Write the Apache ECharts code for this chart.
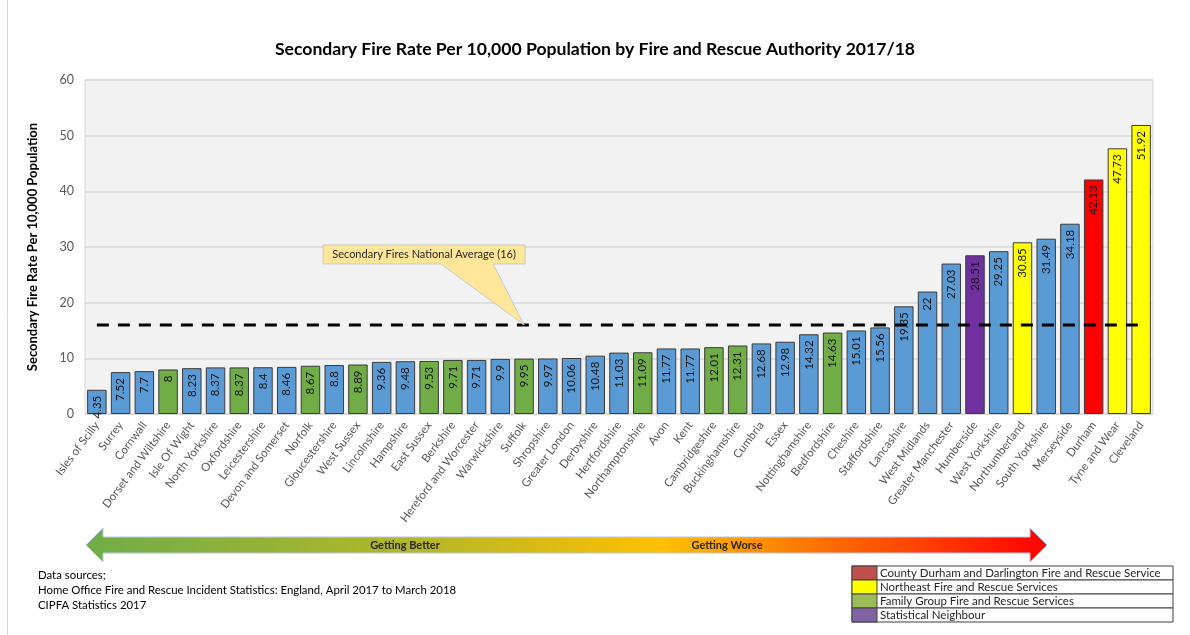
<!DOCTYPE html>
<html>
<head>
<meta charset="utf-8">
<script src="https://cdn.jsdelivr.net/npm/echarts@6/dist/echarts.min.js"></script>
<style>
html,body{margin:0;padding:0;background:#fff;}
#c{width:1190px;height:635px;}
</style>
</head>
<body>
<div id="c"></div>
<script>
var categories = ['Isles of Scilly','Surrey','Cornwall','Dorset and Wiltshire','Isle Of Wight','North Yorkshire','Oxfordshire','Leicestershire','Devon and Somerset','Norfolk','Gloucestershire','West Sussex','Lincolnshire','Hampshire','East Sussex','Berkshire','Hereford and Worcester','Warwickshire','Suffolk','Shropshire','Greater London','Derbyshire','Hertfordshire','Northamptonshire','Avon','Kent','Cambridgeshire','Buckinghamshire','Cumbria','Essex','Nottinghamshire','Bedfordshire','Cheshire','Staffordshire','Lancashire','West Midlands','Greater Manchester','Humberside','West Yorkshire','Northumberland','South Yorkshire','Merseyside','Durham','Tyne and Wear','Cleveland'];
var values = [4.35,7.52,7.7,8,8.23,8.37,8.37,8.4,8.46,8.67,8.8,8.89,9.36,9.48,9.53,9.71,9.71,9.9,9.95,9.97,10.06,10.48,11.03,11.09,11.77,11.77,12.01,12.31,12.68,12.98,14.32,14.63,15.01,15.56,19.35,22,27.03,28.51,29.25,30.85,31.49,34.18,42.13,47.73,51.92];
// group: o = other, f = family group, n = northeast, d = county durham, s = statistical neighbour
var groups = ['o','o','o','f','o','o','f','o','o','f','o','f','o','o','f','f','o','o','f','o','o','o','o','f','o','o','f','f','o','o','o','f','o','o','o','o','o','s','o','n','o','o','d','n','n'];
var nationalAverage = 16;
var avgIndex = 18;
var yTicks = [0,10,20,30,40,50,60];
var legendItems = ['County Durham and Darlington Fire and Rescue Service','Northeast Fire and Rescue Services','Family Group Fire and Rescue Services','Statistical Neighbour'];
var legendColors = ['#C0504D','#FFFF00','#9BBB59','#8064A2'];
var sourceLines = ['Data sources;','Home Office Fire and Rescue Incident Statistics: England, April 2017 to March 2018','CIPFA Statistics 2017'];
var title = 'Secondary Fire Rate Per 10,000 Population by Fire and Rescue Authority 2017/18';
var yName = 'Secondary Fire Rate Per 10,000 Population';

var groupColor = {o:'#5B9BD5', f:'#70AD47', n:'#FFFF00', d:'#FF0000', s:'#7030A0'};
var FONT = 'Lato';

var chart = echarts.init(document.getElementById('c'), null, {renderer:'canvas'});
var barData = values.map(function(v,i){ return {value:v, itemStyle:{color:groupColor[groups[i]]}}; });
var avgData = categories.map(function(){ return nationalAverage; });

chart.setOption({
  backgroundColor:'#fff',
  animation:false,
  textStyle:{fontFamily:FONT},
  title:{text:title, left:'center', top:35, textStyle:{fontFamily:FONT, fontSize:17.6, fontWeight:'bold', color:'#000'}},
  grid:{left:85, right:37, top:80, bottom:221, show:true, backgroundColor:'#F2F2F2', borderColor:'#D9D9D9', borderWidth:1},
  xAxis:{type:'category', data:categories,
    axisLine:{lineStyle:{color:'#D9D9D9'}}, axisTick:{show:false},
    axisLabel:{interval:0, rotate:53, fontSize:11.5, color:'#595959', fontFamily:FONT, margin:9}},
  yAxis:{type:'value', min:yTicks[0], max:yTicks[yTicks.length-1], interval:10,
    name:yName, nameLocation:'middle', nameGap:46,
    nameTextStyle:{fontFamily:FONT, fontSize:13, fontWeight:'bold', color:'#000'},
    axisLine:{show:false}, axisTick:{show:false},
    axisLabel:{fontSize:12.5, color:'#595959', fontFamily:FONT, margin:11},
    splitLine:{lineStyle:{color:'#D9D9D9', width:1.5}}},
  series:[
    {type:'bar', data:barData, barCategoryGap:'18%', z:2,
     itemStyle:{borderColor:'#3A3A3A', borderWidth:1},
     label:{show:true, position:'insideTop', rotate:90, align:'right', verticalAlign:'middle', distance:6,
       fontSize:11.5, color:'#111', fontFamily:FONT}},
    {type:'line', data:avgData, symbol:'none', z:5, silent:true,
     lineStyle:{color:'#000', width:3, type:[12,9]}}
  ]
});

function draw(){
  var tip = chart.convertToPixel({xAxisIndex:0, yAxisIndex:0}, [avgIndex, nationalAverage]);
  var bx1 = tip[0]+1, bx0 = bx1-202, by1 = tip[1]-61, by0 = by1-19;
  var els = [];
  els.push({type:'line', shape:{x1:7.5,y1:0,x2:7.5,y2:635}, style:{stroke:'#D9D9D9', lineWidth:1}, silent:true});
  els.push({type:'polygon', shape:{points:[[bx0,by0],[bx1,by0],[bx1,by1],[tip[0]-31,by1],[tip[0],tip[1]],[tip[0]-83,by1],[bx0,by1]]},
    style:{fill:'#FFE699', stroke:'#C9C9C9', lineWidth:1}, z:10});
  els.push({type:'text', x:(bx0+bx1)/2, y:(by0+by1)/2, z:11,
    style:{text:'Secondary Fires National Average (16)', fontFamily:FONT, fontSize:11, fill:'#262626', align:'center', verticalAlign:'middle'}});
  var ax0=86, ax1=1047, ay=545, hl=17, hh=17, sh=8;
  els.push({type:'polygon', shape:{points:[[ax0,ay],[ax0+hl,ay-hh],[ax0+hl,ay-sh],[ax1-hl,ay-sh],[ax1-hl,ay-hh],[ax1,ay],[ax1-hl,ay+hh],[ax1-hl,ay+sh],[ax0+hl,ay+sh],[ax0+hl,ay+hh]]},
    style:{fill:new echarts.graphic.LinearGradient(0,0,1,0,[{offset:0,color:'#70AD47'},{offset:0.35,color:'#B5B728'},{offset:0.6,color:'#FFC000'},{offset:1,color:'#FF0000'}]),
      stroke:'#B4C7E7', lineWidth:1}, z:10});
  els.push({type:'text', x:405, y:ay, z:11, style:{text:'Getting Better', fontFamily:FONT, fontSize:11, fontWeight:'bold', fill:'#262626', align:'center', verticalAlign:'middle'}});
  els.push({type:'text', x:727, y:ay, z:11, style:{text:'Getting Worse', fontFamily:FONT, fontSize:11, fontWeight:'bold', fill:'#262626', align:'center', verticalAlign:'middle'}});
  sourceLines.forEach(function(t,i){
    els.push({type:'text', x:38, y:575+i*15, z:11, style:{text:t, fontFamily:FONT, fontSize:11.4, fill:'#000', align:'left', verticalAlign:'middle'}});
  });
  var lx0=852, lx1=1173, ly0=566, rh=14, sw=25;
  legendItems.forEach(function(t,i){
    var y=ly0+i*rh;
    els.push({type:'rect', shape:{x:lx0,y:y,width:lx1-lx0,height:rh}, style:{fill:'#fff', stroke:'#404040', lineWidth:1}, z:10});
    els.push({type:'rect', shape:{x:lx0,y:y,width:sw,height:rh}, style:{fill:legendColors[i], stroke:'#404040', lineWidth:1}, z:11});
    els.push({type:'text', x:lx0+sw+3, y:y+rh/2, z:11, style:{text:t, fontFamily:FONT, fontSize:11.5, fill:'#262626', align:'left', verticalAlign:'middle'}});
  });
  chart.setOption({graphic:{elements:els}});
}
draw();
</script>
</body>
</html>
